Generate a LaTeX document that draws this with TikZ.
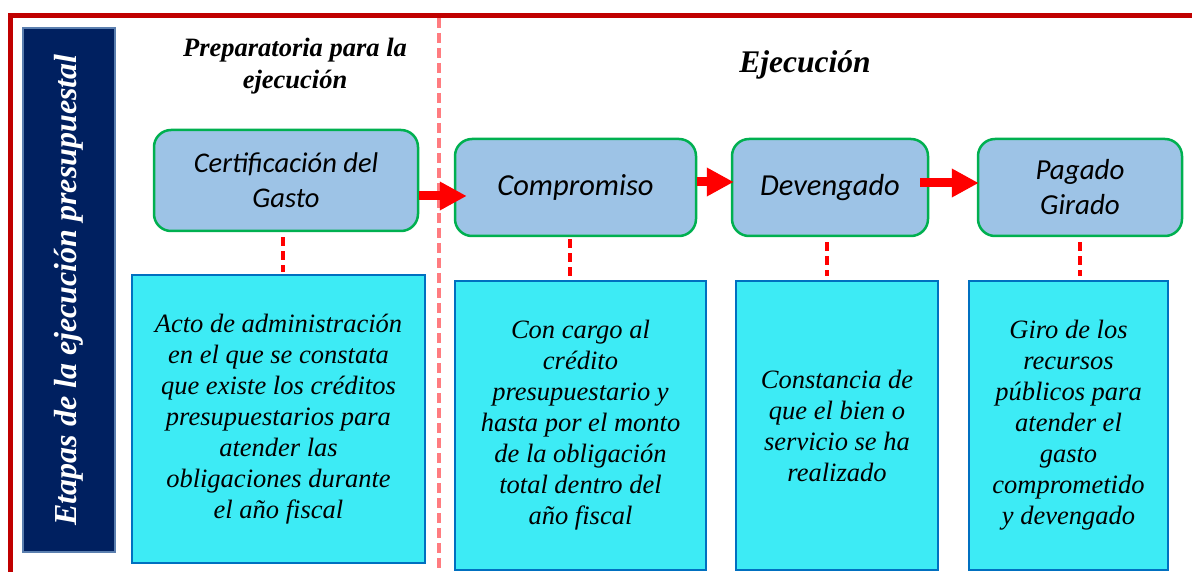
\documentclass[tikz,border=0pt]{standalone}
\usepackage{fontspec}
\setmainfont{Liberation Serif}
\newfontfamily\calibrifont{Carlito}
\usetikzlibrary{arrows.meta}
\definecolor{framered}{HTML}{C00000}
\definecolor{navy}{HTML}{002060}
\definecolor{navyedge}{HTML}{5B7FAF}
\definecolor{divred}{HTML}{FF7C80}
\definecolor{stepfill}{HTML}{9DC3E6}
\definecolor{stepedge}{HTML}{00B050}
\definecolor{descfill}{HTML}{3DEBF5}
\definecolor{descedge}{HTML}{0070C0}
\tikzset{
  stepbox/.style={draw=stepedge, fill=stepfill, line width=2.5pt, rounded corners=17pt,
    inner sep=0pt, align=center, font=\calibrifont\itshape\fontsize{30.5}{35}\selectfont,
    execute at begin node={\vspace*{8pt}}},
  descbox/.style={draw=descedge, fill=descfill, line width=2.5pt, inner sep=0pt,
    align=center, font=\itshape\fontsize{26.5}{31}\selectfont,
    execute at begin node={\vspace*{8pt}}},
  bigarrow/.style={draw=red, line width=9pt, -{Triangle[length=27pt,width=27pt]}},
  linkdash/.style={draw=red, line width=3.5pt, dash pattern=on 9pt off 5pt},
  title/.style={align=center, font=\bfseries\itshape\fontsize{26.5}{32}\selectfont}
}
\begin{document}
\begin{tikzpicture}[x=1pt,y=-1pt]
\useasboundingbox (0,0) rectangle (1192,572);
% frame
\draw[line width=5pt, framered] (10,575) -- (10,15.5) -- (1195,15.5);
% divider
\draw[divred, line width=3.5pt, dash pattern=on 10pt off 5pt] (439,18) -- (439,572);
% side bar
\node[draw=navyedge, fill=navy, line width=2pt, minimum width=92pt, minimum height=524pt, inner sep=0pt] (bar) at (69,290) {};
\node[rotate=90, text=white, font=\bfseries\itshape\fontsize{32}{38}\selectfont] (bartext) at (bar.center) {Etapas de la ejecución presupuestal};
% titles
\node[title] (t1) at (295,66) {Preparatoria para la\\ejecución};
\node[title, font=\bfseries\itshape\fontsize{31.5}{38}\selectfont] (t2) at (805,65) {Ejecución};
% step boxes
\node[stepbox, minimum width=264pt, minimum height=101pt, font=\calibrifont\itshape\fontsize{28.5}{35}\selectfont] (c1) at (286,180.5) {Certificación del\\Gasto};
\node[stepbox, minimum width=241pt, minimum height=97pt] (c2) at (575.5,187.5) {Compromiso};
\node[stepbox, minimum width=196pt, minimum height=97pt] (c3) at (830,187.5) {Devengado};
\node[stepbox, minimum width=204pt, minimum height=97pt, font=\calibrifont\itshape\fontsize{29}{35}\selectfont] (c4) at (1080,187.5) {Pagado\\Girado};
% description boxes
\node[descbox, minimum width=293pt, minimum height=288pt] (d1) at (278.5,419) {Acto de administración\\en el que se constata\\que existe los créditos\\presupuestarios para\\atender las\\obligaciones durante\\el año fiscal};
\node[descbox, minimum width=251pt, minimum height=289pt] (d2) at (580.5,425.5) {Con cargo al\\crédito\\presupuestario y\\hasta por el monto\\de la obligación\\total dentro del\\año fiscal};
\node[descbox, minimum width=202pt, minimum height=289pt] (d3) at (837,425.5) {Constancia de\\que el bien o\\servicio se ha\\realizado};
\node[descbox, minimum width=199pt, minimum height=289pt] (d4) at (1068.5,425.5) {Giro de los\\recursos\\públicos para\\atender el\\gasto\\comprometido\\y devengado};
% arrows
\draw[bigarrow] ([yshift=-15.5]c1.east) -- ([xshift=13,yshift=-8.5]c2.west);
\draw[bigarrow] ([yshift=5.5]c2.east) -- ([xshift=3,yshift=5.5]c3.west);
\draw[bigarrow] ([xshift=-9,yshift=4.5]c3.east) -- ([xshift=2,yshift=4.5]c4.west);
% dashed links
\draw[linkdash] ([xshift=-3,yshift=-5]c1.south) -- ([xshift=4.5,yshift=2]d1.north);
\draw[linkdash] ([xshift=-5.5,yshift=-2]c2.south) -- ([xshift=-10.5]d2.north);
\draw[linkdash] ([xshift=-3,yshift=-5]c3.south) -- ([xshift=-10,yshift=4]d3.north);
\draw[linkdash] ([yshift=-5]c4.south) -- ([xshift=11.5,yshift=4]d4.north);
\end{tikzpicture}
\end{document}
